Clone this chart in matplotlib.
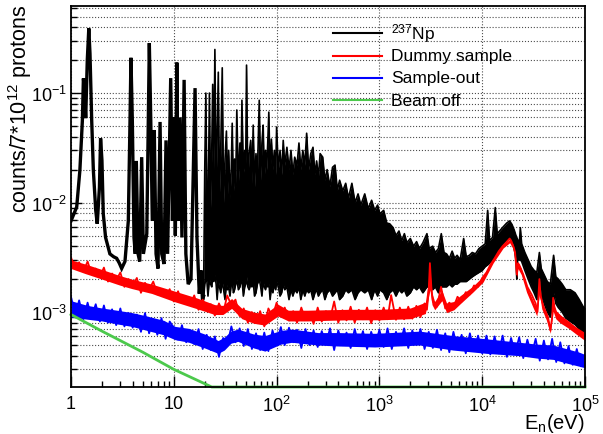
import numpy as np
import matplotlib
matplotlib.use('Agg')
import matplotlib.pyplot as plt
from matplotlib.ticker import FixedLocator, LogLocator, NullFormatter
from matplotlib.lines import Line2D

plt.rcParams['font.family'] = ['Liberation Sans', 'DejaVu Sans']
plt.rcParams['mathtext.fontset'] = 'custom'
plt.rcParams['mathtext.rm'] = 'Liberation Sans'
plt.rcParams['mathtext.it'] = 'Liberation Sans'
plt.rcParams['mathtext.bf'] = 'Liberation Sans:bold'

# ---------------- data ----------------
# 237Np, resolved-resonance part (1 - 19.5 eV): polyline
np_low_E = [1.0, 1.136, 1.22, 1.29, 1.32, 1.35, 1.39, 1.44, 1.49, 1.53, 1.59, 1.65, 1.74, 1.80,
            1.89, 1.94, 2.0, 2.06, 2.17, 2.39, 2.6, 2.78, 2.95, 3.11, 3.35, 3.61, 3.75, 3.83,
            3.95, 4.1, 4.22, 4.32, 4.49, 4.66, 4.87, 5.06, 5.46, 5.78, 5.97, 6.18, 6.46,
            6.72, 7.02, 7.35, 7.63, 8.03, 8.4, 8.7, 9.33, 9.7, 10.05, 10.35, 10.7, 11.05,
            11.5, 12.0, 12.6, 13.1, 13.8, 14.7, 16.1, 16.8, 17.7, 18.4, 19.0, 19.5]
np_low_v = [6.8e-3, 9.1e-3, 0.0197, 0.056, 0.136, 0.11, 0.059, 0.2, 0.39, 0.23, 0.056, 0.0197,
            8.5e-3, 6.4e-3, 0.0137, 0.0386, 0.0243, 7.9e-3, 4.8e-3, 3.4e-3, 3.2e-3, 3.1e-3,
            2.8e-3, 2.5e-3, 2.9e-3, 6.8e-3, 0.056, 0.21, 0.056, 4.8e-3, 3.4e-3, 0.024, 3.4e-3,
            2.9e-3, 0.026, 3.4e-3, 5.2e-3, 0.286, 0.056, 6.8e-3, 0.046, 3.4e-3, 2.5e-3,
            0.0545, 3.4e-3, 2.75e-3, 0.037, 3.4e-3, 0.137, 6.8e-3, 0.06, 5.0e-3, 0.19,
            6.8e-3, 0.06, 4.8e-3, 0.132, 3.4e-3, 1.8e-3, 2.0e-3, 0.111, 4.8e-3, 1.47e-3,
            2.4e-3, 1.3e-3, 1.4e-3]

# 237Np, dense resonance region (19.5 eV - 100 keV): upper / lower edge of the band
np_E = [19.5, 20.0, 20.5, 21.0, 21.5, 22.2, 22.8, 23.4, 23.9, 24.5, 25.1, 25.8, 26.4, 27.1,
        27.8, 28.6, 29.6, 30.5, 31.5, 32.5, 33.3, 34.2, 35.2, 36.2, 37.0, 38.0, 39.0, 40.0,
        41.0, 42.5, 44.0, 45.0, 46.0, 47.5, 49.0, 50.0, 51.0, 52.5, 54.0, 56.0, 57.5, 59.2,
        61.0, 63.0, 65.0, 67.8, 70.0, 72.0, 74.0, 76.0, 78.0, 80.0, 82.0, 84.0, 86.5, 89.0,
        92.0, 95.0, 98.0, 100.0, 104.0, 108.0, 112.0, 116.0, 120.0, 126.0, 132.0, 138.0,
        144.0, 150.0, 158.0, 165.0, 172.0, 180.0, 188.0, 196.0, 205.0, 215.0, 226.0, 236.0,
        245.0, 255.0, 265.0, 281.0, 295.0, 310.0, 330.0, 350.0, 370.0, 390.0, 410.0, 440.0,
        470.0, 500.0, 540.0, 580.0, 620.0, 660.0, 720.0, 780.0, 840.0, 900.0, 960.0, 1010.0,
        1100.0, 1180.0, 1260.0, 1360.0, 1450.0, 1550.0, 1650.0, 1750.0, 1850.0, 2000.0,
        2150.0, 2300.0, 2450.0, 2650.0, 2900.0, 3050.0, 3300.0, 3500.0, 3750.0, 4000.0,
        4250.0, 4500.0, 4800.0, 5100.0, 5400.0, 5700.0, 6100.0, 6600.0, 7000.0, 7500.0,
        8000.0, 8600.0, 9300.0, 10000.0, 10700.0, 11300.0, 11800.0, 12600.0, 13400.0,
        14000.0, 15000.0, 16000.0, 17300.0, 18500.0, 19500.0, 20500.0, 21300.0, 21700.0,
        22100.0, 23000.0, 23500.0, 24200.0, 26000.0, 28000.0, 30000.0, 32000.0, 34000.0,
        36000.0, 37500.0, 40000.0, 43000.0, 46000.0, 49500.0, 52000.0, 55000.0, 60000.0,
        65000.0, 72000.0, 80000.0, 88000.0, 97000.0, 100000.0]
np_hi = [0.0015, 0.02, 0.10, 0.012, 0.006, 0.10, 0.009, 0.03, 0.12, 0.02, 0.25, 0.014, 0.04,
         0.155, 0.012, 0.03, 0.17, 0.010, 0.025, 0.045, 0.012, 0.03, 0.011, 0.02, 0.053,
         0.012, 0.025, 0.014, 0.07, 0.015, 0.035, 0.016, 0.086, 0.018, 0.03, 0.02, 0.18,
         0.015, 0.028, 0.037, 0.015, 0.051, 0.014, 0.028, 0.018, 0.086, 0.016, 0.035, 0.051,
         0.017, 0.03, 0.02, 0.035, 0.067, 0.018, 0.038, 0.02, 0.03, 0.018, 0.049, 0.02, 0.03,
         0.018, 0.037, 0.022, 0.032, 0.02, 0.03, 0.018, 0.026, 0.022, 0.035, 0.02, 0.03,
         0.022, 0.043, 0.02, 0.028, 0.032, 0.018, 0.024, 0.017, 0.028, 0.026, 0.016, 0.020,
         0.014, 0.021, 0.022, 0.013, 0.016, 0.0128, 0.015, 0.011, 0.015, 0.010, 0.012,
         0.0095, 0.012, 0.0088, 0.0105, 0.0085, 0.0095, 0.0079, 0.0085, 0.0065, 0.0064,
         0.0059, 0.0050, 0.0055, 0.0045, 0.0052, 0.0043, 0.0047, 0.0040, 0.0044, 0.0038,
         0.0043, 0.0052, 0.0038, 0.0040, 0.0035, 0.0038, 0.0052, 0.0035, 0.0034, 0.0031,
         0.0036, 0.0031, 0.0033, 0.0030, 0.0047, 0.0032, 0.0033, 0.0035, 0.0034, 0.0038,
         0.0040, 0.0042, 0.0085, 0.0045, 0.0048, 0.0090, 0.0052, 0.0056, 0.0060, 0.0065,
         0.0068, 0.0063, 0.0056, 0.0050, 0.0048, 0.0046, 0.0043, 0.0059, 0.0042, 0.0035,
         0.0030, 0.0026, 0.0024, 0.0023, 0.0035, 0.0025, 0.0022, 0.0019, 0.0018, 0.0033,
         0.0021, 0.0020, 0.0018, 0.0016, 0.0016, 0.0015, 0.0013, 0.0011, 0.0011]
np_lo = [0.0013, 0.0018, 0.0020, 0.0019, 0.0014, 0.0020, 0.0018, 0.0017, 0.0021, 0.0019,
         0.0022, 0.0018, 0.0013, 0.0019, 0.0017, 0.0015, 0.0019, 0.0016, 0.0013, 0.0018,
         0.0016, 0.0017, 0.0014, 0.0018, 0.0019, 0.0015, 0.0016, 0.0018, 0.0020, 0.0016,
         0.0017, 0.0019, 0.0020, 0.0014, 0.0017, 0.0018, 0.0021, 0.0017, 0.0016, 0.0018,
         0.0017, 0.0019, 0.0014, 0.0015, 0.0018, 0.0020, 0.0017, 0.0014, 0.0019, 0.0017,
         0.0016, 0.0018, 0.0017, 0.0019, 0.0013, 0.0017, 0.0015, 0.0018, 0.0016, 0.0019,
         0.0017, 0.0014, 0.0015, 0.0018, 0.0016, 0.0017, 0.0013, 0.0016, 0.0014, 0.0016,
         0.0015, 0.0017, 0.0013, 0.0016, 0.0014, 0.0016, 0.0015, 0.0016, 0.0013, 0.0015,
         0.0016, 0.0014, 0.0015, 0.0016, 0.0013, 0.0015, 0.0016, 0.0014, 0.0015, 0.0016,
         0.0013, 0.0014, 0.0016, 0.0015, 0.0016, 0.0013, 0.0015, 0.0016, 0.0015, 0.0016,
         0.0013, 0.0016, 0.0014, 0.0016, 0.0015, 0.0013, 0.0015, 0.0016, 0.0014, 0.0016,
         0.0015, 0.0016, 0.0014, 0.0015, 0.0017, 0.0016, 0.0017, 0.0015, 0.0017, 0.0017,
         0.0016, 0.0017, 0.0015, 0.0017, 0.0017, 0.0017, 0.0018, 0.0017, 0.0018, 0.0018,
         0.0019, 0.0019, 0.0019, 0.0020, 0.0021, 0.0022, 0.0023, 0.0024, 0.0026, 0.0027,
         0.0028, 0.0030, 0.0032, 0.0034, 0.0038, 0.0042, 0.0046, 0.0048, 0.0044, 0.0038,
         0.0030, 0.0020, 0.0030, 0.0030, 0.0030, 0.0029, 0.0024, 0.0020, 0.0017, 0.0015,
         0.0013, 0.0020, 0.0014, 0.0012, 0.0010, 0.0009, 0.0015, 0.0012, 0.0011, 0.0010,
         0.00088, 0.00082, 0.00077, 0.0007, 0.0006, 0.0006]

# Dummy sample: band core (units of 1e-3)
dummy_band_E = [1.0, 1.37, 2.0, 3.0, 3.9, 6.1, 10.3, 17.0, 25.0, 30.0, 36.5, 46.0, 60.0, 77.0,
                103.0, 130.0, 200.0, 300.0, 500.0, 1000.0, 2000.0, 2800.0, 3100.0, 3250.0,
                3450.0, 4050.0, 4500.0, 5300.0, 6100.0, 8100.0, 10200.0, 12800.0, 16000.0,
                18500.0, 19800.0, 21000.0, 21700.0, 22300.0, 24000.0, 27000.0, 31000.0,
                34000.0, 36000.0, 38000.0, 42000.0, 46000.0, 49000.0, 52000.0, 57000.0,
                68000.0, 82000.0, 100000.0]
dummy_band_hi = [3.0, 2.75, 2.45, 2.15, 2.0, 1.8, 1.55, 1.34, 1.17, 1.15, 1.33, 1.08, 1.0,
                 0.96, 1.18, 1.04, 1.04, 1.05, 1.06, 1.06, 1.09, 1.23, 2.4, 1.48, 1.25, 1.58,
                 1.21, 1.25, 1.41, 1.72, 2.12, 3.08, 4.12, 4.62, 4.22, 3.42, 2.32, 2.82, 2.52,
                 1.74, 1.3, 1.07, 1.82, 1.27, 0.99, 0.74, 1.27, 1.02, 0.94, 0.84, 0.73, 0.65]
dummy_band_lo = [2.5, 2.25, 2.0, 1.76, 1.64, 1.48, 1.24, 1.07, 0.95, 0.95, 1.08, 0.87, 0.79,
                 0.76, 0.92, 0.83, 0.83, 0.84, 0.85, 0.85, 0.87, 0.97, 1.6, 1.17, 1.05, 1.27,
                 0.99, 1.05, 1.19, 1.52, 1.88, 2.82, 3.85, 4.3, 3.85, 3.05, 2.05, 2.5, 2.2,
                 1.52, 1.12, 0.92, 1.47, 1.07, 0.85, 0.64, 1.02, 0.87, 0.8, 0.72, 0.63, 0.55]
# Dummy sample: bin-to-bin fluctuation (units of 1e-3)
dummy_E = [1.00, 1.10, 1.20, 1.32, 1.45, 1.58, 1.74, 1.91, 2.09, 2.29, 2.51, 2.75, 3.02, 3.31,
           3.63, 3.98, 4.37, 4.79, 5.25, 5.75, 6.31, 6.92, 7.59, 8.32, 9.12,
           10.0, 11.0, 12.0, 13.2, 14.5, 15.8, 17.4, 19.1, 20.9, 22.9, 25.1, 27.5, 30.2, 33.1,
           36.3, 39.8, 43.7, 47.9, 52.5, 57.5, 63.1, 69.2, 75.9, 83.2, 91.2,
           100, 110, 120, 132, 145, 158, 174, 191, 209, 229, 251, 275, 302, 331, 363, 398, 437,
           479, 525, 575, 631, 692, 759, 832, 912,
           1000, 1100, 1200, 1300, 1450, 1580, 1740, 1910, 2090, 2290, 2510, 2750, 2900, 3020,
           3100, 3200, 3310, 3630, 3980, 4370, 4790, 5250, 5750, 6310, 6920, 7590, 8320, 9120,
           10000, 11000, 12000, 13200, 14500, 15800, 17400, 18500, 19100, 20300, 20900, 21700,
           22300, 22900, 25100, 27500, 30200, 33100, 34500, 36000, 37000, 39800, 43700, 46000,
           47900, 49000, 50500, 52500, 57500, 63100, 69200, 75900, 83200, 91200, 100000]
dummy_v = [3.15, 2.50, 2.85, 2.35, 2.90, 2.25, 2.50, 2.10, 2.55, 1.90, 2.25, 1.95, 2.30, 1.70,
           2.00, 1.75, 2.05, 1.50, 1.85, 1.60, 1.90, 1.45, 1.62, 1.38, 1.62,
           1.25, 1.55, 1.22, 1.38, 1.18, 1.42, 1.05, 1.30, 1.05, 1.18, 0.93, 1.20, 0.98, 1.42,
           1.15, 1.30, 0.92, 1.08, 0.80, 1.00, 0.80, 1.02, 0.74, 1.08, 0.90,
           1.22, 0.92, 1.10, 0.84, 1.02, 0.80, 1.10, 0.85, 1.00, 0.78, 1.10, 0.82, 1.02, 0.86,
           1.25, 0.80, 1.04, 0.84, 1.12, 0.80, 1.05, 0.86, 1.10, 0.79, 1.04,
           0.84, 1.10, 0.86, 1.43, 0.85, 1.10, 0.86, 1.12, 0.87, 1.14, 0.90, 1.20, 1.05, 1.60,
           2.80, 1.70, 1.25, 1.12, 1.70, 1.08, 1.22, 1.10, 1.38, 1.25, 1.52, 1.45, 1.75, 1.70,
           2.05, 2.30, 2.70, 3.10, 3.60, 4.00, 4.40, 4.70, 4.50, 3.90, 3.50, 2.20,
           2.80, 2.70, 2.20, 1.70, 1.45, 1.20, 1.00, 2.00, 1.40, 1.10, 0.90, 0.68,
           0.90, 1.35, 1.10, 1.00, 0.92, 0.85, 0.80, 0.74, 0.70, 0.62, 0.60]

# Sample-out: band core (units of 1e-3)
out_band_E = [1.0, 1.45, 2.0, 2.8, 3.9, 5.5, 8.0, 10.3, 14.0, 20.0, 27.0, 31.0, 36.0, 42.0,
              60.0, 77.0, 110.0, 141.0, 253.0, 400.0, 900.0, 2480.0, 5200.0, 11000.0,
              23000.0, 34000.0, 49000.0, 68000.0, 88000.0, 100000.0]
out_band_hi = [1.27, 1.15, 1.09, 1.04, 0.99, 0.92, 0.84, 0.74, 0.71, 0.63, 0.55, 0.59, 0.67,
               0.7, 0.63, 0.61, 0.68, 0.7, 0.65, 0.65, 0.64, 0.67, 0.61, 0.57, 0.53, 0.51,
               0.5, 0.46, 0.43, 0.41]
out_band_lo = [0.9, 0.86, 0.83, 0.78, 0.74, 0.68, 0.62, 0.56, 0.53, 0.47, 0.42, 0.45, 0.52,
               0.54, 0.47, 0.44, 0.51, 0.53, 0.5, 0.49, 0.48, 0.5, 0.45, 0.42, 0.4, 0.38,
               0.37, 0.34, 0.32, 0.31]
# Sample-out: bin-to-bin fluctuation (units of 1e-3)
out_E = [1.00, 1.10, 1.20, 1.32, 1.45, 1.58, 1.74, 1.91, 2.09, 2.29, 2.51, 2.75, 3.02, 3.31,
         3.63, 3.98, 4.37, 4.79, 5.25, 5.75, 6.31, 6.92, 7.59, 8.32, 9.12,
         10.0, 11.0, 12.0, 13.2, 14.5, 15.8, 17.4, 19.1, 20.9, 22.9, 25.1, 27.5, 30.2, 33.1,
         36.3, 39.8, 43.7, 47.9, 52.5, 57.5, 63.1, 69.2, 75.9, 83.2, 91.2,
         100, 110, 120, 132, 145, 158, 174, 191, 209, 229, 251, 275, 302, 331, 363, 398, 437,
         479, 525, 575, 631, 692, 759, 832, 912,
         1000, 1100, 1200, 1320, 1450, 1580, 1740, 1910, 2090, 2290, 2510, 2750, 3020, 3310,
         3630, 3980, 4370, 4790, 5250, 5750, 6310, 6920, 7590, 8320, 9120,
         10000, 11000, 12000, 13200, 14500, 15800, 17400, 19100, 20900, 22900, 25100, 27500,
         30200, 33100, 36300, 39800, 43700, 47900, 52500, 57500, 63100, 69200, 75900, 83200,
         91200, 100000]
out_v = [1.38, 0.95, 1.28, 0.86, 1.22, 0.90, 1.18, 0.82, 1.15, 0.80, 1.06, 0.76, 1.08, 0.74,
         0.98, 0.72, 0.95, 0.66, 0.98, 0.64, 0.86, 0.62, 0.88, 0.57, 0.82,
         0.72, 0.56, 0.76, 0.53, 0.68, 0.51, 0.70, 0.46, 0.62, 0.45, 0.60, 0.39, 0.58, 0.50,
         0.74, 0.53, 0.71, 0.49, 0.70, 0.46, 0.64, 0.45, 0.65, 0.44, 0.68,
         0.52, 0.73, 0.50, 0.72, 0.53, 0.69, 0.47, 0.70, 0.50, 0.68, 0.48, 0.67, 0.51, 0.71,
         0.45, 0.68, 0.51, 0.65, 0.47, 0.70, 0.50, 0.67, 0.46, 0.66, 0.50,
         0.69, 0.48, 0.71, 0.46, 0.66, 0.50, 0.71, 0.47, 0.68, 0.51, 0.70, 0.46, 0.66, 0.47,
         0.69, 0.45, 0.64, 0.43, 0.66, 0.46, 0.62, 0.42, 0.64, 0.44, 0.61,
         0.42, 0.61, 0.41, 0.60, 0.42, 0.61, 0.39, 0.58, 0.42, 0.59, 0.38, 0.56,
         0.40, 0.57, 0.36, 0.55, 0.37, 0.57, 0.35, 0.53, 0.34, 0.49, 0.33, 0.46,
         0.32, 0.41]

# Beam off
off_E = [1.0, 2.0, 5.0, 10.0, 23.4, 100.0, 1000.0, 10000.0, 100000.0]
off_v = [9.5e-4, 6.7e-4, 4.3e-4, 3.0e-4, 2.0e-4, 1.0e-4, 3.0e-5, 1.0e-5, 3.0e-6]

legend_labels = ['$^{237}$Np', 'Dummy sample', 'Sample-out', 'Beam off']
x_ticks = [1, 10, 100, 1000, 10000, 100000]
x_ticklabels = ['1', '10', '$10^{2}$', '$10^{3}$', '$10^{4}$', '$10^{5}$']
y_ticks = [1e-3, 1e-2, 1e-1]
y_ticklabels = ['$10^{-3}$', '$10^{-2}$', '$10^{-1}$']

# ---------------- figure ----------------
W, H = 603, 435
fig = plt.figure(figsize=(W / 100, H / 100), dpi=100)
ax = fig.add_axes([71 / W, 47 / H, 514 / W, 380.7 / H])
ax.set_xscale('log')
ax.set_yscale('log')
YMIN, YMAX = 2.07e-4, 0.62
ax.set_xlim(1, 1e5)
ax.set_ylim(YMIN, YMAX)

BLACK, RED, BLUE, GREEN = 'black', '#ff0000', '#0000ff', '#4cc94c'

# 237Np
ax.plot(np_low_E, np_low_v, color=BLACK, lw=2.4, zorder=3, solid_joinstyle='miter')
ax.fill_between(np_E, np_lo, np_hi, color=BLACK, lw=0, zorder=3)
ax.plot(np_E, np_hi, color=BLACK, lw=1.2, zorder=3)
ax.plot(np_E, np_lo, color=BLACK, lw=1.2, zorder=3)

# Dummy sample
ax.fill_between(dummy_band_E, np.array(dummy_band_lo) * 1e-3, np.array(dummy_band_hi) * 1e-3,
                color=RED, lw=0, zorder=4)
ax.plot(dummy_E, np.array(dummy_v) * 1e-3, color=RED, lw=1.3, zorder=4)

# Sample-out
ax.fill_between(out_band_E, np.array(out_band_lo) * 1e-3, np.array(out_band_hi) * 1e-3,
                color=BLUE, lw=0, zorder=5)
ax.plot(out_E, np.array(out_v) * 1e-3, color=BLUE, lw=1.3, zorder=5)

# Beam off (values under the frame are drawn on the frame, as ROOT does)
ax.plot(off_E, np.maximum(np.array(off_v), YMIN), color=GREEN, lw=2.0, zorder=6,
        clip_on=False)

# grid
ax.grid(which='major', axis='both', ls=':', color='0.3', lw=0.8)
ax.grid(which='minor', axis='y', ls=':', color='0.3', lw=0.8)
ax.set_axisbelow(True)

# ticks
ax.xaxis.set_major_locator(FixedLocator(x_ticks))
ax.set_xticklabels(x_ticklabels)
ax.xaxis.set_minor_locator(LogLocator(base=10, subs=np.arange(2, 10), numticks=20))
ax.xaxis.set_minor_formatter(NullFormatter())
ax.yaxis.set_major_locator(FixedLocator(y_ticks))
ax.set_yticklabels(y_ticklabels)
ax.yaxis.set_minor_locator(LogLocator(base=10, subs=np.arange(2, 10), numticks=20))
ax.yaxis.set_minor_formatter(NullFormatter())
ax.tick_params(which='both', direction='in', top=False, right=False, width=1.0,
               labelsize=13)
ax.tick_params(which='major', length=8)
ax.tick_params(which='minor', length=4.5)
ax.tick_params(axis='x', pad=6)
ax.tick_params(axis='y', pad=3)
for s in ax.spines.values():
    s.set_linewidth(1.3)
    s.set_zorder(7)

# axis titles
fig.text(20 / W, 1 - 5 / H, 'counts/7*10$^{12}$ protons', rotation=90, ha='center',
         va='top', fontsize=15.5)
fig.text(585 / W, 1 - 429.5 / H, 'E$_{\\mathrm{n}}$(eV)', ha='right', va='baseline',
         fontsize=14.5)

# legend (no frame, as in the reference)
colors = [BLACK, RED, BLUE, GREEN]
rows_y = [34, 57, 79, 101]
for lab, c, yy in zip(legend_labels, colors, rows_y):
    fig.add_artist(Line2D([333 / W, 382 / W], [1 - yy / H, 1 - yy / H], color=c, lw=1.5,
                          transform=fig.transFigure))
    fig.text(391 / W, 1 - yy / H, lab, ha='left', va='center', fontsize=12.5)

fig.savefig('out.png', dpi=100)
